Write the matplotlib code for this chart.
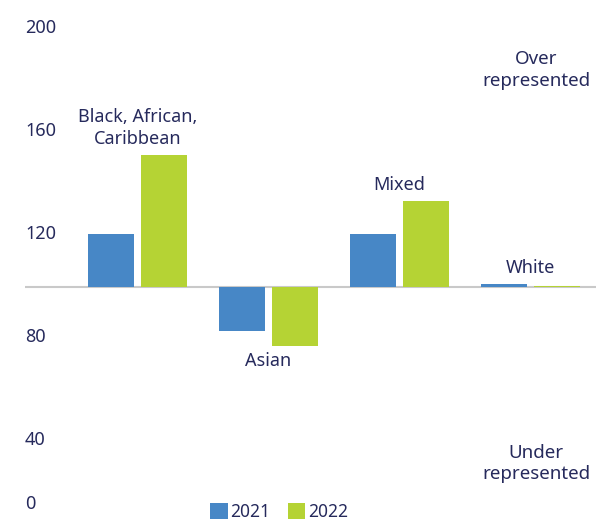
import matplotlib
matplotlib.use('Agg')
import matplotlib.pyplot as plt
import matplotlib.transforms as mtransforms
import numpy as np

# Representation index by ethnic group (100 = proportional)
groups = ['Black, African,\nCaribbean', 'Asian', 'Mixed', 'White']
years = ['2021', '2022']
vals_2021 = [120.6, 83.0, 120.6, 101.2]
vals_2022 = [151.3, 77.1, 133.5, 100.4]
y_ticks = [40, 80, 120, 160, 200]

BLUE = '#4787c6'
GREEN = '#b5d334'
NAVY = '#262a5c'
BASE = 100

plt.rcParams['font.family'] = ['Noto Sans', 'DejaVu Sans']
plt.rcParams['font.size'] = 13

fig = plt.figure(figsize=(5.98, 5.2), dpi=100)
ax = fig.add_axes([25 / 598, 1 - 518.75 / 520, 571 / 598, (518.75 - 21.8) / 520])

x = np.arange(len(groups))
w = 0.351
off = 0.202
for vals, dx, col, lab in [(vals_2021, -off, BLUE, years[0]), (vals_2022, off, GREEN, years[1])]:
    h = np.array(vals) - BASE
    ax.bar(x + dx, h, width=w, bottom=BASE, color=col, label=lab, linewidth=0)

ax.axhline(BASE, color='#c9c9c9', linewidth=1.5, zorder=0)

# category labels above / below each group
for i, g in enumerate(groups):
    hi = max(vals_2021[i], vals_2022[i])
    lo = min(vals_2021[i], vals_2022[i])
    if hi > BASE + 5 or lo >= BASE:
        ax.annotate(g, (x[i], hi), xytext=(0, 5), textcoords='offset points',
                    ha='center', va='bottom', color=NAVY, linespacing=1.25)
    else:
        ax.annotate(g, (x[i], lo), xytext=(0, -4), textcoords='offset points',
                    ha='center', va='top', color=NAVY)

ax.set_xlim(-0.86, 3.5)
ax.set_ylim(10, 203)
ax.set_xticks([])
ax.set_yticks(y_ticks)
ax.set_yticklabels([str(t) for t in y_ticks])
ax.tick_params(axis='y', length=0, pad=0, labelcolor=NAVY, labelsize=13)
shift = mtransforms.ScaledTranslation(0, 4 / 100, fig.dpi_scale_trans)
for lbl in ax.get_yticklabels():
    lbl.set_horizontalalignment('left')
    lbl.set_transform(lbl.get_transform() + shift)
ax.text(0, 0.03, '0', transform=ax.transAxes, ha='left', va='center', color=NAVY)
for s in ax.spines.values():
    s.set_visible(False)

ax.text(0.895, 0.903, 'Over\nrepresented', transform=ax.transAxes,
        ha='center', va='center', color=NAVY, linespacing=1.22, fontsize=13.5)
ax.text(0.895, 0.112, 'Under\nrepresented', transform=ax.transAxes,
        ha='center', va='center', color=NAVY, linespacing=1.22, fontsize=13.5)

fig.legend(loc='center', bbox_to_anchor=(279 / 598, 1 - 512 / 520), ncol=2,
           frameon=False, handlelength=1.0, handleheight=1.0, handletextpad=0.15,
           columnspacing=1.0, labelcolor=NAVY, fontsize=12.5, borderaxespad=0)

fig.savefig('out.png', dpi=100)
